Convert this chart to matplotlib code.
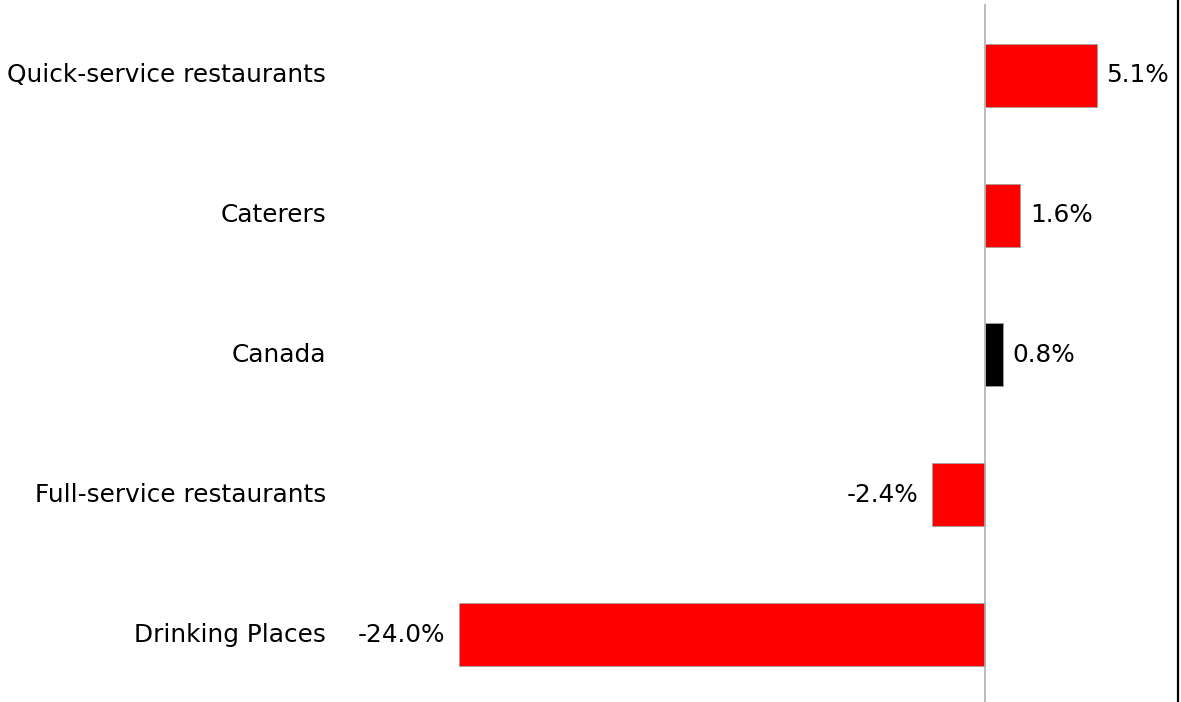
import matplotlib
matplotlib.use("Agg")
import matplotlib.pyplot as plt

categories = ["Quick-service restaurants", "Caterers", "Canada",
              "Full-service restaurants", "Drinking Places"]
values = [5.1, 1.6, 0.8, -2.4, -24.0]
colors = ["#ff0000", "#ff0000", "#000000", "#ff0000", "#ff0000"]
value_labels = ["5.1%", "1.6%", "0.8%", "-2.4%", "-24.0%"]

W, H = 1181, 702
fig = plt.figure(figsize=(W / 100, H / 100), dpi=100)
left_px, right_px = 340, 1178
ax = fig.add_axes([left_px / W, 0, (right_px - left_px) / W, 1])

ypos = list(range(len(categories)))
ax.barh(ypos, values, height=0.45, color=colors, edgecolor="#a0a0a0", linewidth=0.6)
ax.set_xlim(-29.45, 8.81)
ax.set_ylim(4.479, -0.536)
ax.axvline(0, ymin=0, ymax=1 - 5 / H, color="#b0b0b0", linewidth=1.2, zorder=3)

fs = 17.8
for y, v, lab in zip(ypos, values, value_labels):
    if v >= 0:
        ax.annotate(lab, (v, y), xytext=(7, 0), textcoords="offset points",
                    ha="left", va="center", fontsize=fs)
    else:
        ax.annotate(lab, (v, y), xytext=(-10, 0), textcoords="offset points",
                    ha="right", va="center", fontsize=fs)

ax.set_yticks(ypos)
ax.set_yticklabels(categories, fontsize=fs)
for t in ax.get_yticklabels():
    t.set_va("center")
ax.tick_params(axis="y", length=0, pad=10)
ax.set_xticks([])
for s in ["top", "bottom", "left"]:
    ax.spines[s].set_visible(False)
ax.spines["right"].set_color("black")
ax.spines["right"].set_linewidth(1.6)

fig.savefig("out.png", dpi=100)
